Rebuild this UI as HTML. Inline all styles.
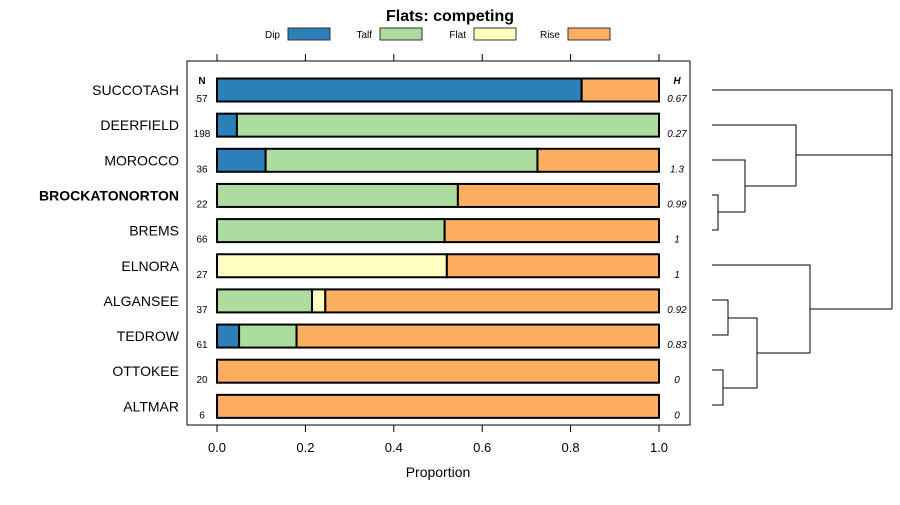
<!DOCTYPE html>
<html><head><meta charset="utf-8"><style>
body{margin:0;background:#fff}
svg{font-family:"Liberation Sans",sans-serif}
</style></head><body>
<svg id="c" width="900" height="500">
<text x="450" y="21" text-anchor="middle" font-weight="bold" font-size="16">Flats: competing</text>
<g id="legend"></g>
<rect x="187" y="61" width="503" height="364" fill="none" stroke="#000"/>
<g id="axes"></g><g id="bars"></g><g id="dendro" stroke="#000" fill="none"></g>
<text x="438" y="477" text-anchor="middle" font-size="14">Proportion</text>
<text x="202" y="84" text-anchor="middle" font-size="10" font-weight="bold">N</text>
<text x="677" y="84" text-anchor="middle" font-size="10" font-weight="bold" font-style="italic">H</text>
</svg>
<script>
const categories=["SUCCOTASH","DEERFIELD","MOROCCO","BROCKATONORTON","BREMS","ELNORA","ALGANSEE","TEDROW","OTTOKEE","ALTMAR"];
const seriesNames=["Dip","Talf","Flat","Rise"];
const dip=[0.825,0.045,0.11,0,0,0,0,0.05,0,0];
const talf=[0,0.955,0.615,0.545,0.515,0,0.215,0.13,0,0];
const flat=[0,0,0,0,0,0.52,0.03,0,0,0];
const rise=[0.175,0,0.275,0.455,0.485,0.48,0.755,0.82,1,1];
const nVals=["57","198","36","22","66","27","37","61","20","6"];
const hVals=["0.67","0.27","1.3","0.99","1","1","0.92","0.83","0","0"];
const ticks=[0,0.2,0.4,0.6,0.8,1.0];
const tickLabels=["0.0","0.2","0.4","0.6","0.8","1.0"];
const colors=["#2c7fb8","#addd9e","#ffffc0","#fdae61"];
const NS="http://www.w3.org/2000/svg";
const x=v=>217+v*442;
const y=i=>90+i*35.15;
function mk(p,t,a){const e=document.createElementNS(NS,t);for(const k in a)e.setAttribute(k,a[k]);p.appendChild(e);return e;}
const svg=document.getElementById('c');
const lg=document.getElementById('legend');
const lx=[263,355,449,543];
seriesNames.forEach((s,i)=>{
 const t=mk(lg,'text',{x:lx[i]+17,y:38,'text-anchor':'end','font-size':10});t.textContent=s;
 
 
 const r=mk(lg,'rect',{x:lx[i]+25,y:28,width:42,height:12,fill:colors[i],stroke:'#333'});
 
 
});
const ax=document.getElementById('axes');
ticks.forEach((v,i)=>{
 const t1=mk(ax,'line',{x1:x(v),x2:x(v),y1:54,y2:61,stroke:'#000'});
 
 
 const t2=mk(ax,'line',{x1:x(v),x2:x(v),y1:425,y2:432,stroke:'#000'});
 
 
 const tl=mk(ax,'text',{x:x(v),y:452,'text-anchor':'middle','font-size':13});tl.textContent=tickLabels[i];
 
 
});
const bg=document.getElementById('bars');
const series=[dip,talf,flat,rise];
categories.forEach((c,i)=>{
 const cy=y(i);
 const lab=mk(bg,'text',{x:179,y:cy+5,'text-anchor':'end','font-size':14,'font-weight':c==="BROCKATONORTON"?'bold':'normal'});lab.textContent=c;
 
 
 let acc=0;
 series.forEach((s,k)=>{
  if(s[i]>0){
   const r=mk(bg,'rect',{x:x(acc),y:cy-11.5,width:s[i]*442,height:23,fill:colors[k],stroke:'#000','stroke-width':2});
   
   
  }
  acc+=s[i];
 });
 const n=mk(bg,'text',{x:202,y:cy+12,'text-anchor':'middle','font-size':10});n.textContent=nVals[i];
 
 
 const h=mk(bg,'text',{x:677,y:cy+12,'text-anchor':'middle','font-size':10,'font-style':'italic'});h.textContent=hVals[i];
 
 
});
const d=document.getElementById('dendro');
const P=[
"M712 90H892V309","M712 125H796V186","M712 160H745V212","M712 195H718V230H712","M718 212H745",
"M745 186H796","M796 155H892","M712 265H810V353","M712 300H728V335H712","M712 370H723V405H712",
"M728 318H757V388H723","M757 353H810","M810 309H892"];
P.forEach(p=>{const e=mk(d,'path',{d:p});
 
 });
</script>
</body></html>
